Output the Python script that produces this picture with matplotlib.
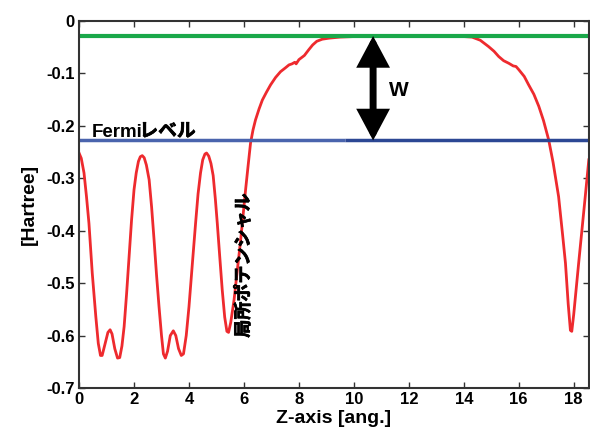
import matplotlib
matplotlib.use("Agg")
import matplotlib.pyplot as plt
import matplotlib.patheffects as pe

plt.rcParams['font.family'] = ['Liberation Sans', 'Noto Sans CJK JP', 'DejaVu Sans']
plt.rcParams['font.weight'] = 'bold'
plt.rcParams['axes.unicode_minus'] = False

# Local potential along z
z = [0, 0.08, 0.18, 0.27, 0.36, 0.48, 0.61, 0.7, 0.78, 0.84, 0.95, 1.05, 1.13, 1.2, 1.3,
     1.4, 1.48, 1.56, 1.64, 1.73, 1.82, 1.91, 2.0, 2.08, 2.16, 2.23, 2.3, 2.37, 2.45, 2.55,
     2.64, 2.73, 2.82, 2.91, 3.0, 3.07, 3.14, 3.22, 3.32, 3.43, 3.52, 3.62, 3.72, 3.8, 3.9,
     4.0, 4.12, 4.24, 4.33, 4.42, 4.5, 4.58, 4.64, 4.72, 4.8, 4.88, 4.96, 5.03, 5.12, 5.21,
     5.3, 5.38, 5.44, 5.52, 5.64, 5.76, 5.88, 5.97, 6.06, 6.15, 6.24, 6.33, 6.42, 6.55,
     6.67, 6.82, 6.97, 7.15, 7.33, 7.5, 7.64, 7.75, 7.85, 7.9, 8.0, 8.2, 8.36, 8.5, 8.65,
     8.85, 9.1, 9.5, 10, 11, 12, 13, 14, 14.3, 14.6, 14.9, 15.1, 15.27, 15.45, 15.64, 15.8,
     15.9, 16.0, 16.2, 16.36, 16.55, 16.73, 16.9, 17.09, 17.25, 17.45, 17.6, 17.7, 17.8,
     17.88, 17.93, 18.0, 18.18, 18.42, 18.55]
potential = [-0.252, -0.262, -0.29, -0.335, -0.386, -0.481, -0.564, -0.615, -0.638, -0.638,
             -0.615, -0.594, -0.589, -0.597, -0.625, -0.643, -0.642, -0.62, -0.583, -0.52,
             -0.45, -0.38, -0.322, -0.29, -0.268, -0.259, -0.257, -0.261, -0.275, -0.303,
             -0.355, -0.418, -0.485, -0.545, -0.6, -0.635, -0.643, -0.63, -0.6, -0.591,
             -0.6, -0.625, -0.638, -0.635, -0.6, -0.545, -0.465, -0.386, -0.33, -0.29,
             -0.265, -0.254, -0.252, -0.258, -0.272, -0.295, -0.34, -0.386, -0.45, -0.513,
             -0.565, -0.592, -0.594, -0.575, -0.532, -0.475, -0.418, -0.37, -0.322, -0.277,
             -0.233, -0.208, -0.189, -0.168, -0.151, -0.136, -0.122, -0.108, -0.097, -0.09,
             -0.084, -0.082, -0.079, -0.082, -0.074, -0.066, -0.055, -0.046, -0.039, -0.035,
             -0.033, -0.031, -0.03, -0.03, -0.03, -0.03, -0.03, -0.031, -0.037, -0.049,
             -0.058, -0.068, -0.076, -0.081, -0.086, -0.087, -0.093, -0.106, -0.122, -0.14,
             -0.163, -0.19, -0.227, -0.27, -0.335, -0.41, -0.462, -0.54, -0.59, -0.592,
             -0.56, -0.462, -0.335, -0.265]

vacuum_level = -0.029
fermi_level = -0.228
arrow_z = 10.7

x_ticks = [0, 2, 4, 6, 8, 10, 12, 14, 16, 18]
y_ticks = [0, -0.1, -0.2, -0.3, -0.4, -0.5, -0.6, -0.7]
y_labels = ['0', '-0.1', '-0.2', '-0.3', '-0.4', '-0.5', '-0.6', '-0.7']

fig = plt.figure(figsize=(5.9, 4.34), dpi=100)
ax = fig.add_axes([0.134, 0.106, 0.864, 0.846])

ax.plot(z, potential, color='#ee2a2e', lw=2)
ax.axhline(vacuum_level, color='#1aa84a', lw=3)
ax.hlines(fermi_level, 0, 9.67, color='#4a64ad', lw=2.5)
ax.hlines(fermi_level, 9.67, 18.55, color='#2c4794', lw=2.5)

ax.annotate('', xy=(arrow_z, vacuum_level), xytext=(arrow_z, fermi_level),
            arrowprops=dict(arrowstyle='<|-|>,head_width=0.4,head_length=0.75',
                            lw=5, color='black', shrinkA=0, shrinkB=0,
                            mutation_scale=20, joinstyle='miter'))
ax.text(11.64, -0.1335, 'W', fontsize=15, fontweight='bold', ha='center', va='center')

# CJK font has no real bold here, thicken the kana with a thin stroke
bold_fx = [pe.withStroke(linewidth=0.5, foreground='black')]
fermi = ax.text(0.47, -0.212, 'Fermi', fontsize=13.5, fontweight='bold', ha='left',
                va='center')
ax.annotate('レベル', xy=(1, 0.5), xycoords=fermi, xytext=(-2.5, 0),
            textcoords='offset points', fontsize=13.5, ha='left', va='center',
            path_effects=bold_fx)
ax.text(6.0, -0.467, '局所ポテンシャル', fontsize=13, fontweight='bold', rotation=90,
        ha='center', va='center', path_effects=bold_fx)

ax.set_xlim(0, 18.55)
ax.set_ylim(-0.7, 0)
ax.set_xticks(x_ticks)
ax.set_yticks(y_ticks)
ax.set_yticklabels(y_labels)
ax.tick_params(direction='in', length=4, width=1, top=True, right=True,
               labelsize=12, colors='#333333', labelcolor='black', pad=3)
for s in ax.spines.values():
    s.set_linewidth(1.5)
    s.set_color('#333333')

ax.set_xlabel('Z-axis [ang.]', fontsize=14, fontweight='bold', labelpad=2)
ax.set_ylabel('[Hartree]', fontsize=14, fontweight='bold', labelpad=6)

fig.savefig('out.png', dpi=100)
